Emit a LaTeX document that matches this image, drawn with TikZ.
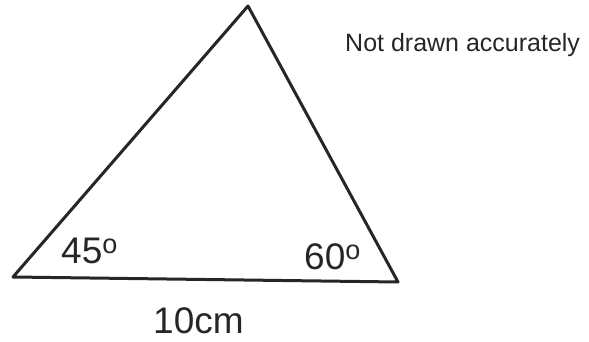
\documentclass[tikz,border=0pt]{standalone}
\usepackage{fontspec}
\setmainfont{Liberation Sans}
\newcommand{\degsup}{\raisebox{10pt}{\fontsize{27}{27}\selectfont o}}
\begin{document}
\begin{tikzpicture}[x=1pt,y=-1pt,
  side/.style={draw=black!85, line width=3pt, line join=round, line cap=round},
  big/.style={font=\fontsize{37}{37}\selectfont, text=black!85, inner sep=0pt, anchor=base west},
  note/.style={font=\fontsize{25}{25}\selectfont, text=black!85, inner sep=0pt, anchor=base west}]
\useasboundingbox (0,0) rectangle (589,342);
\coordinate (L) at (13,277);
\coordinate (R) at (398,282);
\coordinate (T) at (248,6);
\draw[side] (L) -- (T) -- (R) -- cycle;
\node[big] (a45) at (61,263) {45\degsup};
\node[big] (a60) at (304,269) {60\degsup};
\node[big] (base) at (153,333) {10cm};
\node[note] (na) at (345,52) {Not drawn accurately};
\end{tikzpicture}
\end{document}
